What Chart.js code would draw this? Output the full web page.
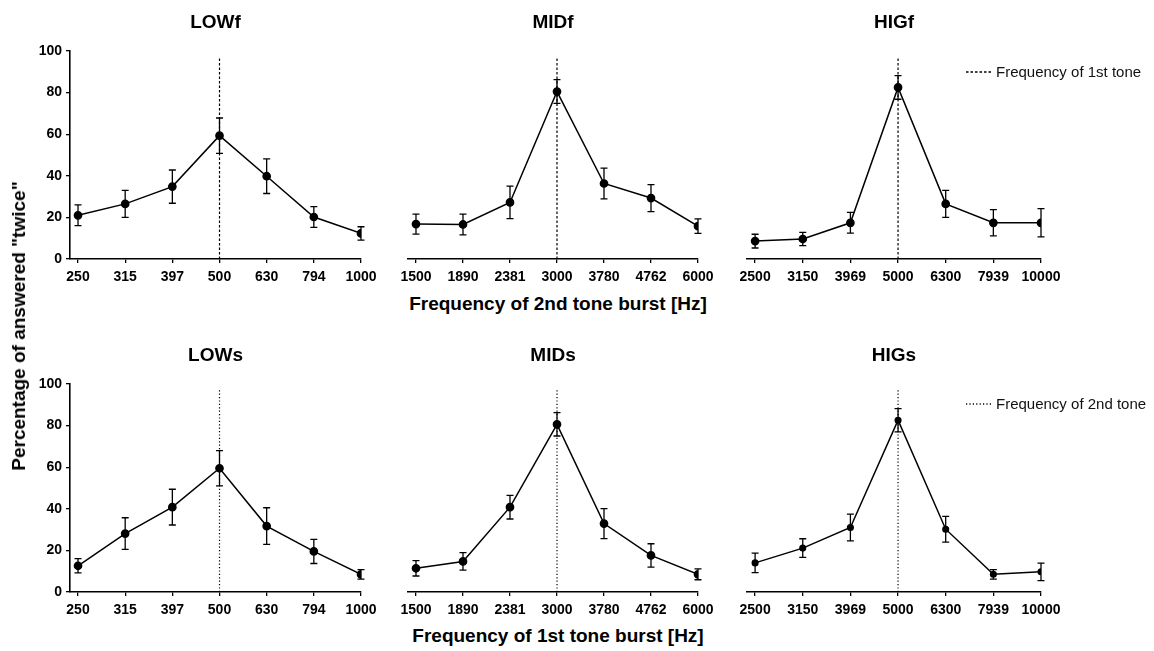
<!DOCTYPE html>
<html>
<head>
<meta charset="utf-8">
<script src="https://cdn.jsdelivr.net/npm/chart.js@4.4.0/dist/chart.umd.min.js"></script>
<style>
  body { margin: 0; background: #fff; font-family: "Liberation Sans", Arial, sans-serif; }
  #wrap { position: relative; width: 1154px; height: 651px; overflow: hidden; }
  canvas { position: absolute; }
  .axlbl { position: absolute; font-weight: bold; font-size: 19px; color: #000; white-space: nowrap; transform: translate(-50%, -50%); }
  .legend { position: absolute; font-size: 15px; color: #111; white-space: nowrap; display: flex; align-items: center; }
  .legend svg { margin-right: 5px; }
</style>
</head>
<body>
<div id="wrap">
  <canvas id="lowf" width="385" height="290" style="left:0;top:0"></canvas>
  <canvas id="midf" width="385" height="290" style="left:385px;top:0"></canvas>
  <canvas id="higf" width="424" height="290" style="left:730px;top:0"></canvas>
  <canvas id="lows" width="385" height="290" style="left:0;top:333px"></canvas>
  <canvas id="mids" width="385" height="290" style="left:385px;top:333px"></canvas>
  <canvas id="higs" width="424" height="290" style="left:730px;top:333px"></canvas>

  <div class="axlbl" style="left:558px;top:304px">Frequency of 2nd tone burst [Hz]</div>
  <div class="axlbl" style="left:558px;top:636px">Frequency of 1st tone burst [Hz]</div>
  <div class="axlbl" style="left:19px;top:326px;transform:translate(-50%,-50%) rotate(-90deg)">Percentage of answered "twice"</div>

  <div class="legend" style="left:966px;top:63px">
    <svg width="25" height="4"><line x1="0" y1="2" x2="25" y2="2" stroke="#000" stroke-width="1.3" stroke-dasharray="2.5,2"/></svg>Frequency of 1st tone
  </div>
  <div class="legend" style="left:966px;top:395px">
    <svg width="25" height="4"><line x1="0" y1="2" x2="25" y2="2" stroke="#000" stroke-width="1.3" stroke-dasharray="1.2,2.2"/></svg>Frequency of 2nd tone
  </div>
</div>
<script>
// tick labels (Hz)
const freqLow = ['250', '315', '397', '500', '630', '794', '1000'];
const freqMid = ['1500', '1890', '2381', '3000', '3780', '4762', '6000'];
const freqHig = ['2500', '3150', '3969', '5000', '6300', '7939', '10000'];
const yTicks = [0, 20, 40, 60, 80, 100];

// % answered "twice", upper row (2nd tone varied)
const lowF = [21, 26.5, 34.8, 59.3, 39.8, 20.2, 12.3];
const lowFErr = [5, 6.5, 8, 8.5, 8.3, 5, 3.2];
const midF = [16.8, 16.6, 27.2, 80.5, 36.3, 29.3, 15.8];
const midFErr = [4.8, 5, 7.8, 5.7, 7.4, 6.5, 3.5];
const higF = [8.6, 9.6, 17.4, 82.5, 26.5, 17.4, 17.4];
const higFErr = [3.3, 3.2, 5, 5.7, 6.5, 6.3, 6.8];

// lower row (1st tone varied)
const lowS = [12.6, 28.1, 40.8, 59.5, 31.7, 19.5, 8.5];
const lowSErr = [3.4, 7.6, 8.6, 8.5, 8.8, 5.8, 2.3];
const midS = [11.4, 14.7, 40.8, 80.6, 32.9, 17.6, 8.5];
const midSErr = [3.7, 4.2, 5.7, 5.6, 7.2, 5.6, 2.6];
const higS = [14, 21.1, 31, 82.6, 30.2, 8.5, 9.7];
const higSErr = [4.7, 4.5, 6.4, 5.6, 6.2, 2.3, 4.2];

// reference tone sits at the 4th category; vertical line extent in %
const refIndex = 3;
const refSpanTop = [0, 97];
const refSpanBottom = [0, 98];

const FONT = 'Liberation Sans, Arial, sans-serif';

// draws the SEM whiskers using the chart's own scales
const errorBars = {
  id: 'errorBars',
  beforeDatasetsDraw(chart, args, opts) {
    if (!opts.errs) return;
    const { ctx, scales: { x, y } } = chart;
    const pts = chart.data.datasets[0].data;
    ctx.save();
    ctx.strokeStyle = '#000';
    ctx.lineWidth = 1.3;
    pts.forEach((p, i) => {
      const px = x.getPixelForValue(p.x);
      const t = y.getPixelForValue(p.y + opts.errs[i]);
      const b = y.getPixelForValue(p.y - opts.errs[i]);
      ctx.beginPath();
      ctx.moveTo(px, t); ctx.lineTo(px, b);
      ctx.moveTo(px - 3.5, t); ctx.lineTo(px + 3.5, t);
      ctx.moveTo(px - 3.5, b); ctx.lineTo(px + 3.5, b);
      ctx.stroke();
    });
    ctx.restore();
  }
};

function makePanel(id, title, labels, vals, errs, cfg) {
  return new Chart(document.getElementById(id), {
    type: 'line',
    data: {
      datasets: [{
        data: vals.map((v, i) => ({ x: i, y: v })),
        borderColor: '#000',
        backgroundColor: '#000',
        borderWidth: 1.5,
        pointRadius: cfg.r || 3.6,
        pointHoverRadius: cfg.r || 3.6,
        tension: 0
      }, {
        data: cfg.span.map(v => ({ x: refIndex, y: v })),
        borderColor: '#000',
        borderWidth: 1.2,
        borderDash: cfg.dash,
        pointRadius: 0
      }]
    },
    options: {
      responsive: false,
      animation: false,
      layout: { padding: { left: cfg.pl, right: cfg.pr, top: 0, bottom: 0 } },
      plugins: {
        legend: { display: false },
        tooltip: { enabled: false },
        title: {
          display: true,
          text: title,
          fullSize: false,
          color: '#000',
          font: { family: FONT, size: 19, weight: 'bold' },
          padding: { top: 11, bottom: 17.2 }
        },
        errorBars: { errs: errs }
      },
      scales: {
        x: {
          type: 'linear',
          min: -0.17,
          max: labels.length - 1,
          afterBuildTicks: s => { s.ticks = labels.map((_, i) => ({ value: i })); },
          afterFit: s => { s.height = 31; },
          grid: { drawOnChartArea: false, drawTicks: true, tickLength: 4, color: '#000', lineWidth: 1.3 },
          border: { display: true, color: '#000', width: 1.6 },
          ticks: {
            color: '#000',
            font: { family: FONT, size: 14, weight: 'bold' },
            padding: 6,
            maxRotation: 0,
            autoSkip: false,
            callback: v => labels[v]
          }
        },
        y: {
          display: cfg.showY,
          min: 0,
          max: 100,
          afterBuildTicks: s => { s.ticks = yTicks.map(v => ({ value: v })); },
          afterFit: s => { if (cfg.showY) s.width = 70; },
          grid: { drawOnChartArea: false, drawTicks: true, tickLength: 4, color: '#000', lineWidth: 1.3 },
          border: { display: true, color: '#000', width: 1.6 },
          ticks: {
            color: '#000',
            font: { family: FONT, size: 14, weight: 'bold' },
            padding: 4
          }
        }
      }
    },
    plugins: [errorBars]
  });
}

const dashed = [2.5, 2];
const dotted = [1.2, 2.2];

makePanel('lowf', 'LOWf', freqLow, lowF, lowFErr, { showY: true, pl: 0, pr: 24, dash: dashed, span: refSpanTop });
makePanel('midf', 'MIDf', freqMid, midF, midFErr, { showY: false, pl: 23, pr: 72, dash: dashed, span: refSpanTop });
makePanel('higf', 'HIGf', freqHig, higF, higFErr, { showY: false, pl: 17, pr: 113, dash: dashed, span: refSpanTop });
makePanel('lows', 'LOWs', freqLow, lowS, lowSErr, { showY: true, pl: 0, pr: 24, dash: dotted, span: refSpanBottom });
makePanel('mids', 'MIDs', freqMid, midS, midSErr, { showY: false, pl: 23, pr: 72, dash: dotted, span: refSpanBottom });
makePanel('higs', 'HIGs', freqHig, higS, higSErr, { showY: false, pl: 17, pr: 113, dash: dotted, span: refSpanBottom, r: 2.8 });
</script>
</body>
</html>
